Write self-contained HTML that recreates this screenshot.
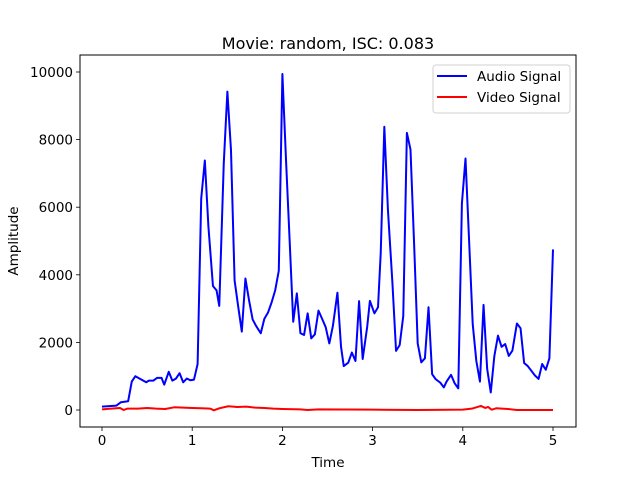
<!DOCTYPE html>
<html><head><meta charset="utf-8"><style>
body{margin:0;background:#fff;}
svg text{font-family:"DejaVu Sans","Liberation Sans",sans-serif;fill:#000;}
</style></head><body>
<svg id="chart" width="640" height="480" xmlns="http://www.w3.org/2000/svg">
<rect width="640" height="480" fill="#fff"/>
<text x="328" y="49" font-size="16" text-anchor="middle">Movie: random, ISC: 0.083</text>
<g id="plot"></g>
<text x="328" y="467" font-size="13.5" text-anchor="middle">Time</text>
<text transform="translate(18,241) rotate(-90)" font-size="13.5" text-anchor="middle">Amplitude</text>
<g>
<rect x="433" y="65" width="137" height="48" rx="3" fill="#fff" stroke="#ccc" stroke-opacity="0.9"/>
<line x1="437" y1="76" x2="467" y2="76" stroke="#0000ff" stroke-width="2"/>
<text x="477" y="81" font-size="13.5">Audio Signal</text>
<line x1="437" y1="97" x2="467" y2="97" stroke="#ff0000" stroke-width="2"/>
<text x="477" y="102" font-size="13.5">Video Signal</text>
</g>
</svg>
<script>
const audioT=[0,.16,.21,.29,.33,.37,.49,.52,.57,.61,.66,.69,.74,.78,.82,.86,.90,.94,.98,1.02,1.06,1.10,1.14,1.18,1.23,1.27,1.30,1.35,1.39,1.43,1.47,1.51,1.55,1.59,1.63,1.67,1.71,1.76,1.80,1.84,1.88,1.92,1.96,2.00,2.04,2.08,2.12,2.16,2.20,2.24,2.28,2.32,2.36,2.40,2.44,2.48,2.52,2.56,2.61,2.65,2.68,2.73,2.77,2.81,2.85,2.89,2.94,2.97,3.02,3.06,3.09,3.13,3.17,3.22,3.26,3.30,3.34,3.38,3.42,3.46,3.50,3.54,3.58,3.62,3.66,3.70,3.75,3.79,3.82,3.87,3.91,3.95,3.99,4.03,4.07,4.11,4.15,4.19,4.23,4.27,4.31,4.35,4.39,4.43,4.47,4.51,4.55,4.60,4.64,4.68,4.72,4.80,4.84,4.88,4.92,4.96,5.0];
const audioV=[100,130,230,260,840,1000,820,870,870,950,950,750,1130,870,930,1090,820,930,880,900,1360,6260,7380,5420,3670,3540,3080,7300,9420,7690,3830,3060,2320,3890,3250,2680,2480,2270,2700,2880,3180,3540,4120,9940,7400,5030,2610,3450,2270,2220,2860,2120,2240,2940,2700,2450,1970,2490,3470,1870,1300,1400,1700,1450,3220,1510,2460,3230,2860,3040,4640,8380,5920,3750,1750,1920,2780,8200,7710,4930,1970,1410,1530,3040,1060,910,810,670,840,1040,790,640,6110,7440,5000,2540,1450,840,3110,1220,520,1600,2200,1870,1950,1600,1760,2560,2420,1390,1300,1020,920,1360,1190,1530,4750];
const videoT=[0,.1,.2,.24,.28,.4,.5,.6,.7,.8,.9,1.0,1.1,1.2,1.24,1.3,1.4,1.5,1.6,1.7,1.8,1.9,2.0,2.2,2.28,2.4,3.0,3.5,4.0,4.1,4.2,4.25,4.28,4.32,4.37,4.5,4.6,5.0];
const videoV=[20,40,60,0,40,40,60,40,30,80,70,60,50,40,-10,50,110,90,100,70,60,40,30,20,0,20,10,0,10,40,120,60,90,10,50,30,0,0];
const xTicks=[0,1,2,3,4,5];
const yTicks=[0,2000,4000,6000,8000,10000];
const L=80,R=576,T=55,B=427;
const X=t=>102+t*90.2;
const Y=v=>410-v*0.0338;
const NS="http://www.w3.org/2000/svg";
const g=document.getElementById('plot');
function mk(tag,attrs){const e=document.createElementNS(NS,tag);for(const k in attrs)e.setAttribute(k,attrs[k]);g.appendChild(e);return e;}
xTicks.forEach(t=>{
  const l=mk('line',{x1:X(t),x2:X(t),y1:B,y2:B+4,stroke:'#000','stroke-width':0.8});
  
  
  const tx=mk('text',{x:X(t),y:B+18,'font-size':13.5,'text-anchor':'middle'});
  tx.textContent=t;
  
  
});
yTicks.forEach(v=>{
  const l=mk('line',{x1:L-4,x2:L,y1:Y(v),y2:Y(v),stroke:'#000','stroke-width':0.8});
  
  
  const tx=mk('text',{x:L-7,y:Y(v)+5,'font-size':13.5,'text-anchor':'end'});
  tx.textContent=v;
  
  
});
const pa=mk('polyline',{points:audioT.map((t,i)=>X(t)+','+Y(audioV[i])).join(' '),fill:'none',stroke:'#0000ff','stroke-width':2,'stroke-linejoin':'round'});


const pv=mk('polyline',{points:videoT.map((t,i)=>X(t)+','+Y(videoV[i])).join(' '),fill:'none',stroke:'#ff0000','stroke-width':2,'stroke-linejoin':'round'});


const fr=mk('rect',{x:L,y:T,width:R-L,height:B-T,fill:'none',stroke:'#000','stroke-width':1});


</script>
</body></html>
